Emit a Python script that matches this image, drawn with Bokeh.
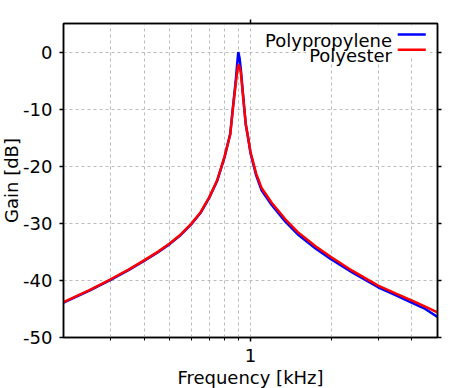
from bokeh.plotting import figure
from bokeh.models import FixedTicker, LinearAxis, LogAxis, Label, Title
from bokeh.embed import file_html
from bokeh.resources import INLINE

# Frequency in kHz
freq = [0.2, 0.25, 0.3, 0.35, 0.4, 0.45, 0.5, 0.55, 0.6, 0.65, 0.7, 0.75, 0.8,
        0.84, 0.86, 0.88, 0.89, 0.9, 0.91, 0.92, 0.94, 0.96, 0.98, 1.0, 1.05,
        1.1, 1.2, 1.35, 1.5, 1.75, 2.0, 2.4, 3.0, 3.5, 4.0, 4.5, 5.0]
# Gain in dB
polyester = [-43.8, -41.7, -39.8, -38.1, -36.5, -35.0, -33.5, -31.9, -30.1, -28.1,
             -25.5, -22.5, -18.3, -14.4, -9.8, -5.7, -3.8, -2.2, -2.6, -3.6, -8.2,
             -12.6, -15.0, -17.5, -21.3, -23.8, -26.4, -29.3, -31.5, -34.0, -35.9,
             -38.3, -40.9, -42.3, -43.5, -44.6, -45.6]
polypropylene = [-43.9, -41.8, -39.9, -38.2, -36.6, -35.1, -33.6, -32.0, -30.2, -28.2,
                 -25.6, -22.6, -18.4, -14.3, -9.6, -5.2, -2.5, 0.0, -1.0, -3.0, -8.0,
                 -12.7, -15.1, -17.7, -21.6, -24.2, -26.8, -29.7, -31.9, -34.4, -36.3,
                 -38.6, -41.2, -42.6, -43.9, -45.0, -46.4]

series_names = ["Polypropylene", "Polyester"]
series_colors = ["#0000ff", "#ff0000"]

x_major = [1]
x_major_labels = {1: "1"}
x_minor = [0.3, 0.4, 0.5, 0.6, 0.7, 0.8, 0.9, 2, 3, 4]
y_ticks = [-50, -40, -30, -20, -10, 0]
y_tick_labels = ["-50", "-40", "-30", "-20", "-10", "0"]

FONT = "DejaVu Sans"

p = figure(x_axis_type="log", x_range=(0.2, 5), y_range=(-50, 5),
           frame_width=374, frame_height=314,
           min_border_left=0, min_border_right=35, min_border_top=23, min_border_bottom=51,
           output_backend="svg", toolbar_location=None)
p.background_fill_color = "white"
p.border_fill_color = "white"
p.outline_line_color = "black"
p.outline_line_width = 1.5

xt = FixedTicker(ticks=x_major, minor_ticks=x_minor)
yt = FixedTicker(ticks=y_ticks)

xax = p.xaxis[0]
xax.ticker = xt
xax.major_label_overrides = x_major_labels
xax.major_tick_out = 4
xax.major_tick_in = 0
xax.minor_tick_out = 3
xax.minor_tick_in = 0
xax.minor_tick_line_color = "black"
xax.major_label_standoff = 7
xax.axis_label = "Frequency [kHz]"
xax.axis_label_standoff = 2

yax = p.yaxis[0]
yax.ticker = yt
yax.major_label_overrides = dict(zip(y_ticks, y_tick_labels))
yax.major_tick_out = 4
yax.major_tick_in = 0
yax.minor_tick_line_color = None
yax.major_label_standoff = 7

for ax in (xax, yax):
    ax.axis_line_color = "black"
    ax.axis_line_width = 1.5
    ax.major_tick_line_color = "black"
    ax.major_tick_line_width = 1.5
    ax.major_label_text_font = FONT
    ax.major_label_text_font_size = "18px"
    ax.major_label_text_color = "black"
    ax.axis_label_text_font = FONT
    ax.axis_label_text_font_size = "18px"
    ax.axis_label_text_font_style = "normal"
    ax.axis_label_text_color = "black"

# y-axis title as a left-side title panel
p.add_layout(Title(text="Gain [dB]", align="center", standoff=-3, offset=0,
                   text_font=FONT, text_font_size="18px",
                   text_font_style="normal", text_color="black"), "left")

top_ax = LogAxis(ticker=FixedTicker(ticks=x_major, minor_ticks=[]),
                 major_label_text_font_size="1px", major_label_text_alpha=0,
                 major_label_standoff=0,
                 major_tick_out=4, major_tick_in=0, minor_tick_line_color=None,
                 axis_line_color="black", axis_line_width=1.5,
                 major_tick_line_color="black", major_tick_line_width=1.5)
right_ax = LinearAxis(ticker=yt,
                      major_label_text_font_size="1px", major_label_text_alpha=0,
                      major_label_standoff=0,
                      major_tick_out=4, major_tick_in=0, minor_tick_line_color=None,
                      axis_line_color="black", axis_line_width=1.5,
                      major_tick_line_color="black", major_tick_line_width=1.5)
p.add_layout(top_ax, "above")
p.add_layout(right_ax, "right")

for g in (p.xgrid[0], p.ygrid[0]):
    g.grid_line_color = "#bbbbbb"
    g.grid_line_dash = "3 3"
    g.grid_line_width = 1
p.xgrid[0].ticker = xt
p.xgrid[0].minor_grid_line_color = "#bbbbbb"
p.xgrid[0].minor_grid_line_dash = "3 3"
p.ygrid[0].ticker = yt

p.line(freq, polypropylene, line_color=series_colors[0], line_width=2.5)
p.line(freq, polyester, line_color=series_colors[1], line_width=2.5)

# Legend (text right-aligned, sample line to the right, opaque background)
p.quad(left=[1.106, 1.614, 3.41], right=[3.41, 3.41, 4.68],
       bottom=[1.66, -0.96, -0.96], top=[4.47, 1.66, 4.47],
       fill_color="white", line_color=None)
leg_y_line = [3.06, 0.39]
leg_y_text = [2.0, -0.62]
for name, col, yl, ytx in zip(series_names, series_colors, leg_y_line, leg_y_text):
    p.add_layout(Label(x=3.38, y=ytx, text=name, text_align="right",
                       text_baseline="alphabetic", text_font=FONT,
                       text_font_size="18px", text_color="black"))
    p.segment(x0=[3.55], x1=[4.52], y0=[yl], y1=[yl], line_color=col, line_width=2.5)

open("out.html", "w").write(file_html(p, INLINE))
